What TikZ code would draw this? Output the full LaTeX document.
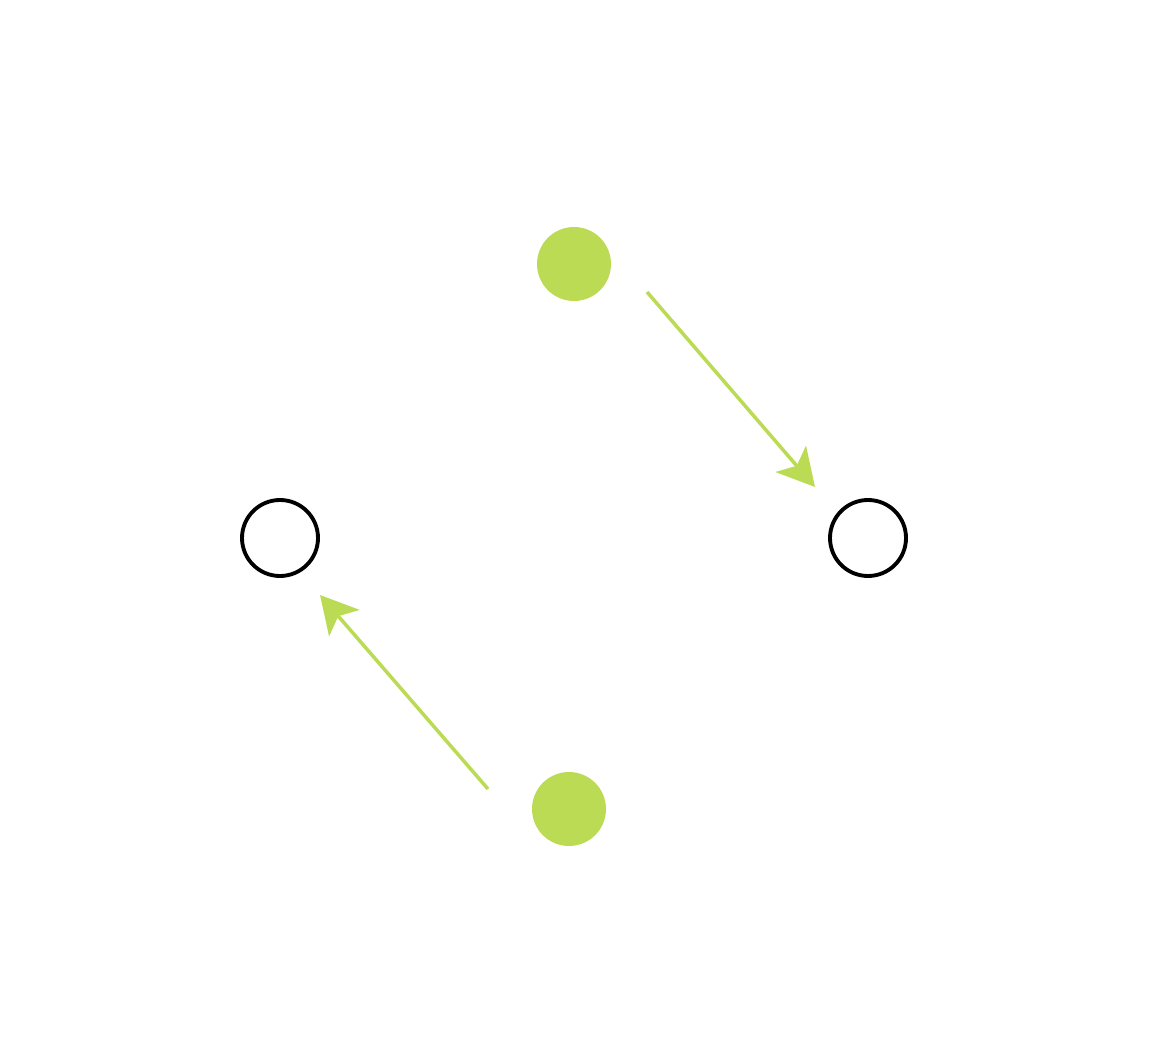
\documentclass[tikz,border=0pt]{standalone}
\usepackage{tikz}
\usepackage{xcolor}
\usetikzlibrary{arrows.meta,positioning,calc}

\definecolor{limegreen}{RGB}{188,219,85}

\begin{document}
\begin{tikzpicture}[
  full/.style={circle, fill=limegreen, minimum size=1.48cm, inner sep=0pt},
  empty/.style={circle, draw=black, line width=2.2pt, minimum size=1.52cm, inner sep=0pt},
  arr/.style={draw=limegreen, line width=2pt, -{Stealth[length=0.74cm, width=0.8cm, inset=0.18cm]}}
]

% Frame
\useasboundingbox (0,0) rectangle (23.16,20.92);

% Filled nodes
\node[full] (g1) at (11.48,15.64) {};
\node[full] (g2) at (11.38,4.74) {};

% Open nodes
\node[empty] (o1) at (5.6,10.16) {};
\node[empty] (o2) at (17.36,10.16) {};

% Arrow ends
\coordinate (s1) at ($(g1)+(1.46,-0.56)$);
\coordinate (e1) at ($(o2)+(-1.06,1.02)$);
\coordinate (s2) at ($(g2)+(-1.62,0.40)$);
\coordinate (e2) at ($(o1)+(0.80,-1.14)$);

% Arrows
\draw[arr] (s1) -- (e1);
\draw[arr] (s2) -- (e2);

\end{tikzpicture}
\end{document}
